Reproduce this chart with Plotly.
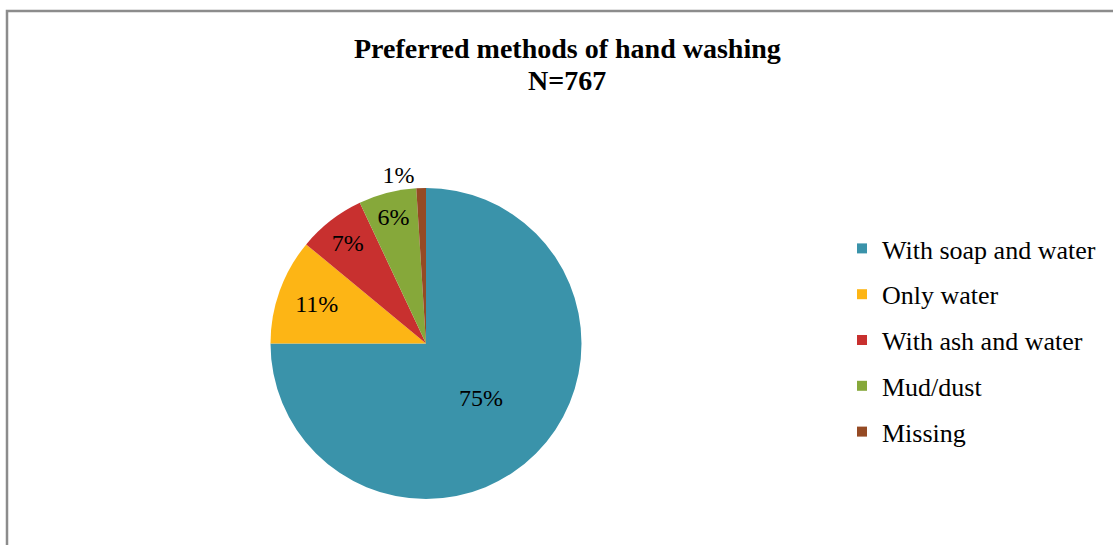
import plotly.graph_objects as go

labels = ["With soap and water", "Only water", "With ash and water", "Mud/dust", "Missing"]
values = [75, 11, 7, 6, 1]
colors = ["#3A93AA", "#FDB515", "#C8302F", "#86A83A", "#954A24"]
text_pos = ["inside", "inside", "inside", "inside", "outside"]

W, H = 1113, 545
FONT = "Liberation Serif"

fig = go.Figure()
fig.add_trace(go.Pie(
    labels=labels, values=values, sort=False, direction="clockwise", rotation=0,
    marker=dict(colors=colors, line=dict(width=0)),
    textinfo="percent", texttemplate="%{percent:.0%}",
    textposition=text_pos, insidetextorientation="horizontal",
    textfont=dict(family=FONT, size=24, color="black"),
    outsidetextfont=dict(family=FONT, size=24, color="black"),
    showlegend=False,
    domain=dict(x=[270 / W, 582 / W], y=[1 - 499 / H, 1 - 188 / H]),
))
for lab, col in zip(labels, colors):
    fig.add_trace(go.Scatter(
        x=[None], y=[None], mode="markers", name=lab, legendgroup=lab,
        marker=dict(symbol="square", size=10, color=col),
    ))

fig.add_shape(type="rect", xref="paper", yref="paper",
              x0=7 / W, x1=1.05, y0=-0.05, y1=1 - 11 / H,
              line=dict(color="#8C8C8C", width=2.5))

fig.add_annotation(text="<b>Preferred methods of hand washing</b>", x=567 / W, y=1 - 48 / H,
                   xref="paper", yref="paper", showarrow=False, yanchor="middle",
                   font=dict(family=FONT, size=28, color="black"))
fig.add_annotation(text="<b>N=767</b>", x=567 / W, y=1 - 80 / H,
                   xref="paper", yref="paper", showarrow=False, yanchor="middle",
                   font=dict(family=FONT, size=28, color="black"))

fig.update_layout(
    width=W, height=H, margin=dict(l=0, r=0, t=0, b=0),
    paper_bgcolor="white", plot_bgcolor="white",
    xaxis=dict(visible=False), yaxis=dict(visible=False),
    uniformtext=dict(minsize=24, mode="show"),
    legend=dict(x=842 / W, y=1 - 225 / H, xanchor="left", yanchor="top",
                font=dict(family=FONT, size=26, color="black"),
                tracegroupgap=9, bgcolor="rgba(0,0,0,0)"),
)
fig.write_html("out.html", config={"displayModeBar": False},
               post_script="document.body.style.margin='0';document.body.style.padding='0';")
